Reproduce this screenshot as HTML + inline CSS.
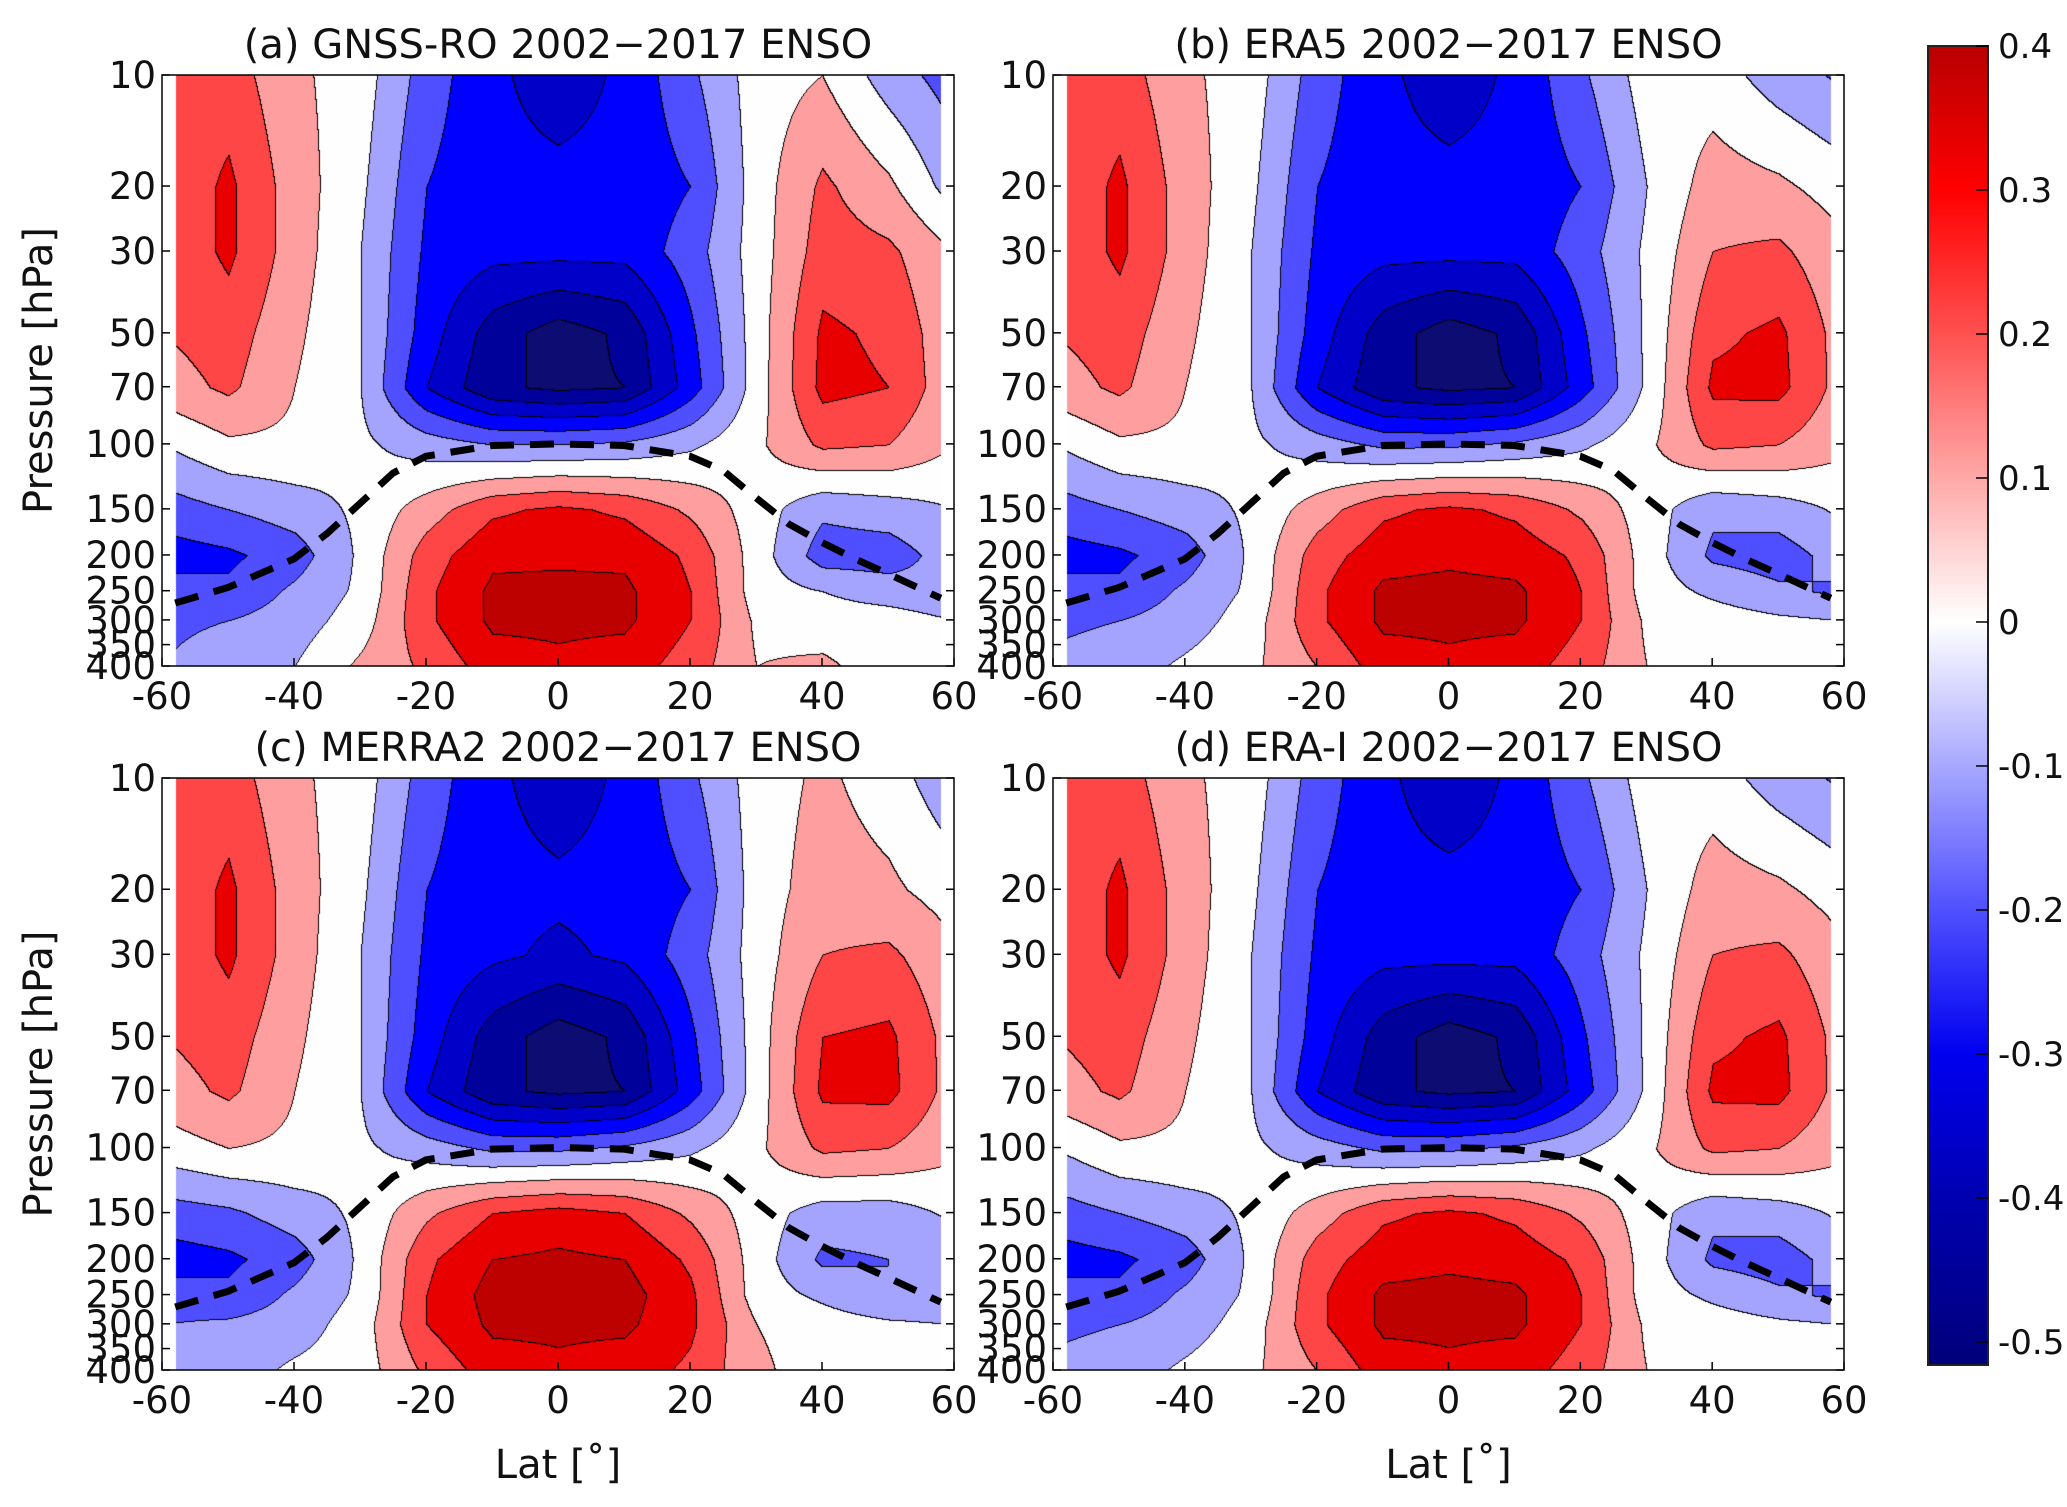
<!DOCTYPE html>
<html><head><meta charset="utf-8">
<style>
body{margin:0;background:#fff;}
#wrap{position:relative;width:2067px;height:1507px;overflow:hidden;font-family:"DejaVu Sans","Liberation Sans",sans-serif;}
canvas,svg{position:absolute;left:0;top:0;}
</style></head>
<body>
<div id="wrap">
<canvas id="cv" width="2067" height="1507"></canvas>
<svg id="sv" width="2067" height="1507" font-family="DejaVu Sans, Liberation Sans, sans-serif"></svg>
</div>
<script>
const lats=[-60,-50,-40,-30,-20,-10,0,10,20,30,40,50,60];
const levels=[10,20,30,50,70,100,150,200,250,300,400];
const yTicks=[10,20,30,50,70,100,150,200,250,300,350,400];
const xTicks=[-60,-40,-20,0,20,40,60];
const cbTicks=[0.4,0.3,0.2,0.1,0,-0.1,-0.2,-0.3,-0.4,-0.5];
const titles=["(a) GNSS-RO 2002\u22122017 ENSO","(b) ERA5 2002\u22122017 ENSO","(c) MERRA2 2002\u22122017 ENSO","(d) ERA-I 2002\u22122017 ENSO"];
const tropLat=[-58,-50,-40,-35,-30,-25,-20,-10,0,10,20,25,30,35,40,45,50,58];
const tropP=[270,245,205,175,145,120,108,101,100,101,108,118,140,165,185,205,225,262];
const fieldA=[
[0.25,0.25,0.12,0.05,-0.15,-0.28,-0.35,-0.28,-0.12,0.05,0.1,-0.05,-0.15],
[0.22,0.32,0.15,0.02,-0.2,-0.27,-0.27,-0.27,-0.2,0.05,0.22,0.12,-0.05],
[0.22,0.32,0.15,0.0,-0.22,-0.27,-0.27,-0.27,-0.15,0.05,0.25,0.22,0.1],
[0.2,0.25,0.12,0.0,-0.25,-0.45,-0.55,-0.48,-0.22,0.05,0.32,0.28,0.12],
[0.15,0.22,0.1,0.0,-0.3,-0.48,-0.52,-0.5,-0.25,0.05,0.33,0.3,0.12],
[0.0,0.08,0.08,0.02,-0.05,-0.1,-0.1,-0.08,-0.02,0.08,0.22,0.2,0.1],
[-0.15,-0.1,-0.05,0.02,0.15,0.28,0.32,0.28,0.18,0.05,-0.08,-0.05,0.0],
[-0.25,-0.22,-0.15,0.02,0.25,0.38,0.38,0.38,0.28,0.05,-0.15,-0.15,-0.05],
[-0.15,-0.18,-0.08,0.02,0.28,0.42,0.43,0.42,0.3,0.05,0.0,-0.05,-0.08],
[-0.12,-0.1,-0.05,0.05,0.28,0.42,0.42,0.42,0.3,0.08,0.05,0.05,0.0],
[-0.1,-0.05,0.0,0.12,0.22,0.35,0.38,0.35,0.25,0.1,0.12,0.05,0.05]];
const fieldB=[
[0.25,0.25,0.12,0.05,-0.15,-0.28,-0.35,-0.28,-0.12,0.05,0.05,-0.05,-0.12],
[0.22,0.32,0.15,0.02,-0.2,-0.27,-0.27,-0.27,-0.2,0.0,0.15,0.12,0.05],
[0.22,0.32,0.15,0.0,-0.22,-0.27,-0.27,-0.27,-0.15,0.02,0.2,0.22,0.12],
[0.2,0.25,0.12,0.0,-0.25,-0.45,-0.55,-0.48,-0.22,0.02,0.28,0.32,0.15],
[0.15,0.22,0.1,0.0,-0.3,-0.48,-0.52,-0.5,-0.25,0.02,0.32,0.33,0.15],
[0.0,0.08,0.08,0.02,-0.05,-0.12,-0.12,-0.08,-0.02,0.08,0.22,0.2,0.12],
[-0.15,-0.1,-0.05,0.02,0.15,0.28,0.32,0.28,0.18,0.05,-0.08,-0.05,0.02],
[-0.25,-0.22,-0.15,0.02,0.25,0.36,0.38,0.36,0.28,0.05,-0.12,-0.15,-0.05],
[-0.15,-0.18,-0.08,0.02,0.28,0.42,0.43,0.42,0.3,0.05,-0.02,-0.08,-0.12],
[-0.12,-0.1,-0.05,0.05,0.28,0.42,0.42,0.42,0.3,0.08,0.05,0.02,0.0],
[-0.08,-0.05,0.02,0.08,0.2,0.35,0.38,0.35,0.25,0.1,0.1,0.05,0.05]];
const fieldC=[
[0.25,0.25,0.12,0.05,-0.15,-0.28,-0.35,-0.28,-0.12,0.05,0.12,0.05,-0.08],
[0.22,0.32,0.15,0.02,-0.2,-0.27,-0.28,-0.27,-0.2,0.05,0.15,0.12,0.05],
[0.22,0.32,0.15,0.0,-0.22,-0.28,-0.32,-0.28,-0.15,0.05,0.2,0.22,0.12],
[0.2,0.25,0.12,0.0,-0.25,-0.45,-0.55,-0.48,-0.22,0.05,0.3,0.32,0.15],
[0.15,0.22,0.1,0.0,-0.3,-0.48,-0.52,-0.5,-0.25,0.05,0.32,0.33,0.15],
[0.05,0.1,0.08,0.02,-0.05,-0.12,-0.12,-0.08,-0.02,0.08,0.22,0.2,0.12],
[-0.15,-0.12,-0.05,0.02,0.18,0.3,0.34,0.3,0.18,0.05,-0.05,-0.05,0.02],
[-0.25,-0.22,-0.15,0.02,0.28,0.4,0.42,0.4,0.28,0.05,-0.12,-0.1,-0.08],
[-0.15,-0.18,-0.08,0.02,0.3,0.44,0.45,0.44,0.32,0.05,-0.02,-0.1,-0.1],
[-0.1,-0.08,-0.05,0.05,0.3,0.42,0.42,0.42,0.32,0.1,0.05,0.02,0.0],
[-0.08,-0.05,0.02,0.05,0.22,0.35,0.38,0.35,0.28,0.12,0.05,0.1,0.05]];
const fieldD=[
[0.25,0.25,0.12,0.05,-0.15,-0.28,-0.36,-0.28,-0.12,0.05,0.05,-0.05,-0.12],
[0.22,0.32,0.15,0.02,-0.2,-0.27,-0.27,-0.27,-0.2,0.0,0.15,0.12,0.05],
[0.22,0.32,0.15,0.0,-0.22,-0.27,-0.27,-0.27,-0.15,0.02,0.2,0.22,0.12],
[0.2,0.25,0.12,0.0,-0.25,-0.45,-0.55,-0.48,-0.22,0.02,0.28,0.32,0.15],
[0.15,0.22,0.1,0.0,-0.3,-0.48,-0.52,-0.5,-0.25,0.02,0.32,0.33,0.15],
[0.0,0.08,0.08,0.02,-0.05,-0.12,-0.12,-0.08,-0.02,0.08,0.22,0.2,0.12],
[-0.15,-0.1,-0.05,0.02,0.15,0.28,0.32,0.28,0.18,0.05,-0.08,-0.05,0.02],
[-0.25,-0.22,-0.15,0.02,0.25,0.36,0.38,0.36,0.28,0.05,-0.12,-0.15,-0.05],
[-0.15,-0.18,-0.08,0.02,0.28,0.42,0.43,0.42,0.3,0.05,-0.02,-0.08,-0.12],
[-0.12,-0.1,-0.05,0.05,0.28,0.42,0.42,0.42,0.3,0.08,0.05,0.02,0.0],
[-0.08,-0.05,0.02,0.08,0.2,0.35,0.38,0.35,0.25,0.1,0.1,0.05,0.05]];
const fields=[fieldA,fieldB,fieldC,fieldD];

const panels=[{x0:162,x1:954,y0:75,y1:666},{x0:1053,x1:1844,y0:75,y1:666},
              {x0:162,x1:954,y0:778,y1:1370},{x0:1053,x1:1844,y0:778,y1:1370}];
const bandColors=["#0c0c72","#00009a","#0000c8","#0000ff","#4f4fff","#a4a4ff","#fefefe","#ff9e9e","#ff4646","#e80000","#bd0000"];
function band(v){let i=Math.floor((v+0.6)/0.1+1e-9);return Math.max(0,Math.min(10,i));}
function xS(p,lat){return p.x0+(lat+60)/120*(p.x1-p.x0);}
function yS(p,pr){return p.y0+(Math.log10(pr)-1)/(Math.log10(400)-1)*(p.y1-p.y0);}
function sample(f,lat,pr){
  let lp=Math.log10(pr);
  let i=Math.min(11,Math.max(0,Math.floor((lat+60)/10))); let tx=(lat+60)/10-i;
  let j=0; while(j<levels.length-2&&Math.log10(levels[j+1])<lp)j++;
  let a=Math.log10(levels[j]),b=Math.log10(levels[j+1]); let ty=Math.max(0,Math.min(1,(lp-a)/(b-a)));
  let v00=f[j][i],v01=f[j][i+1],v10=f[j+1][i],v11=f[j+1][i+1];
  return (v00*(1-tx)+v01*tx)*(1-ty)+(v10*(1-tx)+v11*tx)*ty;
}
const ctx=document.getElementById('cv').getContext('2d');
panels.forEach((p,k)=>{
  const f=fields[k];
  const W=Math.round(p.x1-p.x0),H=Math.round(p.y1-p.y0);
  const img=ctx.createImageData(W,H);
  const idx=new Int8Array(W*H);
  for(let y=0;y<H;y++){const pr=Math.pow(10,1+y/(H)*(Math.log10(400)-1));
    for(let x=0;x<W;x++){const lat=-60+x/W*120;
      idx[y*W+x]=(lat<-58||lat>58)?-1:band(sample(f,lat,pr));}}
  for(let y=0;y<H;y++)for(let x=0;x<W;x++){
    const b=idx[y*W+x];let c=[255,255,255];
    if(b>=0){const h=bandColors[b];c=[parseInt(h.substr(1,2),16),parseInt(h.substr(3,2),16),parseInt(h.substr(5,2),16)];
      const l=x>0?idx[y*W+x-1]:b,u=y>0?idx[(y-1)*W+x]:b;
      if((l>=0&&l!==b)||(u>=0&&u!==b))c=[0,0,0];}
    const o=(y*W+x)*4;img.data[o]=c[0];img.data[o+1]=c[1];img.data[o+2]=c[2];img.data[o+3]=255;}
  ctx.putImageData(img,Math.round(p.x0),Math.round(p.y0));
});
const NS="http://www.w3.org/2000/svg";const sv=document.getElementById('sv');
function el(t,a,txt){const e=document.createElementNS(NS,t);for(const k in a)e.setAttribute(k,a[k]);if(txt!==undefined)e.textContent=txt;sv.appendChild(e);return e;}
panels.forEach((p,k)=>{
  let e=el('rect',{x:p.x0,y:p.y0,width:p.x1-p.x0,height:p.y1-p.y0,fill:'none',stroke:'#000','stroke-width':1.5});
  
  
  let pts=tropLat.map((l,i)=>xS(p,l)+','+yS(p,tropP[i])).join(' ');
  e=el('polyline',{points:pts,fill:'none',stroke:'#000','stroke-width':7,'stroke-dasharray':'24 16'});
  
  
  e=el('text',{x:(p.x0+p.x1)/2,y:p.y0-17,'font-size':40,'text-anchor':'middle',fill:'#111'},titles[k]);
  
  
  yTicks.forEach(t=>{const y=yS(p,t);
    el('line',{x1:p.x0,x2:p.x0+8,y1:y,y2:y,stroke:'#000','stroke-width':1.5});
    el('line',{x1:p.x1,x2:p.x1-8,y1:y,y2:y,stroke:'#000','stroke-width':1.5});
    e=el('text',{x:p.x0-6,y:y+13,'font-size':37,'text-anchor':'end',fill:'#111'},String(t));
    
    });
  xTicks.forEach(t=>{const x=xS(p,t);
    el('line',{x1:x,x2:x,y1:p.y1,y2:p.y1-8,stroke:'#000','stroke-width':1.5});
    e=el('text',{x:x,y:p.y1+43,'font-size':37,'text-anchor':'middle',fill:'#111'},String(t));
    
    });
  if(k%2===0){e=el('text',{x:52,y:(p.y0+p.y1)/2,'font-size':40,'text-anchor':'middle',fill:'#111',transform:'rotate(-90 52 '+((p.y0+p.y1)/2)+')'},'Pressure [hPa]');
    
    }
  if(k>=2){e=el('text',{x:(p.x0+p.x1)/2,y:1478,'font-size':40,'text-anchor':'middle',fill:'#111'},'Lat [\u02da]');
    
    }
});
const cb={x:1928,w:60,top:46,bot:1365,vTop:0.4,vBot:-0.516};
const defs=el('defs',{});const g=document.createElementNS(NS,'linearGradient');g.setAttribute('id','cbg');g.setAttribute('x1','0');g.setAttribute('y1','0');g.setAttribute('x2','0');g.setAttribute('y2','1');defs.appendChild(g);
[[0.4,'#b80000'],[0.3,'#ff0000'],[0.2,'#ff5050'],[0.1,'#ffa8a8'],[0,'#ffffff'],[-0.1,'#a8a8ff'],[-0.2,'#5050ff'],[-0.3,'#0000f0'],[-0.4,'#0000b0'],[-0.516,'#00007a']].forEach(s=>{const st=document.createElementNS(NS,'stop');st.setAttribute('offset',(cb.vTop-s[0])/(cb.vTop-cb.vBot));st.setAttribute('stop-color',s[1]);g.appendChild(st);});
let e=el('rect',{x:cb.x,y:cb.top,width:cb.w,height:cb.bot-cb.top,fill:'url(#cbg)',stroke:'#222','stroke-width':2});


cbTicks.forEach(t=>{const y=cb.top+(cb.vTop-t)/(cb.vTop-cb.vBot)*(cb.bot-cb.top);
  el('line',{x1:cb.x+cb.w-12,x2:cb.x+cb.w,y1:y,y2:y,stroke:'#000','stroke-width':1.5});
  const t2=el('text',{x:cb.x+cb.w+10,y:y+12,'font-size':34,fill:'#111'},String(t));
  
  });
</script>
</body></html>
